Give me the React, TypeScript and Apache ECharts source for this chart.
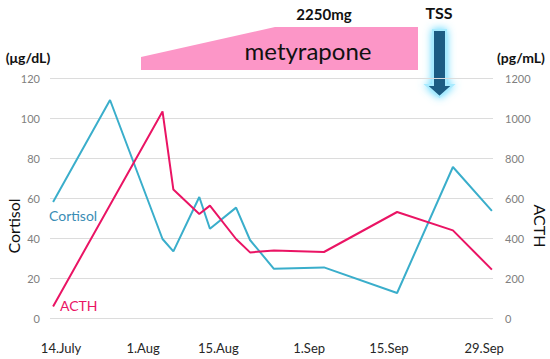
import React, { useEffect, useRef } from "react";
import * as echarts from "echarts";

// x positions on an abstract 0–200 time scale (as laid out in the figure)
const xTickPos = [5, 42, 76, 117, 153, 196];
const xTickLabels = ["14.July", "1.Aug", "15.Aug", "1.Sep", "15.Sep", "29.Sep"];

const cortisolX = [1.4, 27.1, 50.8, 55.7, 67.4, 72.2, 84, 90.3, 101.1, 123.7, 156.7, 181.9, 199.5];
const cortisolY = [58, 109, 39.5, 33.3, 60.5, 44.6, 55.2, 39, 24.6, 25.3, 12.5, 75.5, 53.6];

const acthX = [1.4, 50.8, 55.7, 67.4, 72.2, 84, 90.3, 101.1, 123.7, 156.7, 181.9, 199.5];
const acthY = [58, 1033, 642, 520, 562, 395, 328, 338, 330, 530, 438, 242];

const FONT = "Lato, 'Noto Sans', sans-serif";
const CORTISOL_COLOR = "#3AAECB";
const ACTH_COLOR = "#EA1464";

export default function App() {
  const ref = useRef<HTMLDivElement>(null);

  useEffect(() => {
    if (!ref.current) return;
    const chart = echarts.init(ref.current, undefined, { renderer: "svg" });

    const cortisolData = cortisolX.map((x, i) => [x, cortisolY[i]]);
    const acthData = acthX.map((x, i) => [x, acthY[i]]);

    chart.setOption({
      animation: false,
      textStyle: { fontFamily: FONT },
      grid: { left: 50, right: 57, top: 78, bottom: 41 },
      xAxis: {
        type: "value",
        min: 0,
        max: 200,
        interval: 1,
        axisLine: { show: false },
        axisTick: { show: false },
        splitLine: { show: false },
        axisLabel: {
          margin: 23,
          fontSize: 13,
          color: "#262626",
          fontFamily: FONT,
          formatter: (v: number) => {
            const i = xTickPos.findIndex((p) => Math.abs(p - v) < 0.01);
            return i >= 0 ? xTickLabels[i] : "";
          },
        },
      },
      yAxis: [
        {
          type: "value",
          min: 0,
          max: 120,
          interval: 20,
          axisLine: { show: false },
          axisTick: { show: false },
          splitLine: { show: true, lineStyle: { color: "#dcdcdc", width: 1 } },
          axisLabel: { margin: 10, fontSize: 11, color: "#808080", fontFamily: FONT },
        },
        {
          type: "value",
          min: 0,
          max: 1200,
          interval: 200,
          axisLine: { show: false },
          axisTick: { show: false },
          splitLine: { show: false },
          axisLabel: {
            margin: 12,
            fontSize: 11,
            color: "#808080",
            fontFamily: FONT,
            formatter: (v: number) => String(v),
          },
        },
      ],
      series: [
        {
          name: "Cortisol",
          type: "line",
          yAxisIndex: 0,
          data: cortisolData,
          showSymbol: false,
          lineStyle: { color: CORTISOL_COLOR, width: 2 },
          itemStyle: { color: CORTISOL_COLOR },
          z: 3,
        },
        {
          name: "ACTH",
          type: "line",
          yAxisIndex: 1,
          data: acthData,
          showSymbol: false,
          lineStyle: { color: ACTH_COLOR, width: 2 },
          itemStyle: { color: ACTH_COLOR },
          z: 4,
        },
      ],
      graphic: [
        {
          type: "polygon",
          shape: { points: [[141, 70], [141, 57], [275, 27], [418, 27], [418, 70]] },
          style: { fill: "#FC96C7" },
        },
        {
          type: "text",
          x: 308,
          y: 50,
          style: { text: "metyrapone", fontSize: 24, fontFamily: FONT, fill: "#111", align: "center", verticalAlign: "middle" },
        },
        {
          type: "text",
          x: 324,
          y: 14,
          style: { text: "2250mg", fontSize: 15, fontWeight: "bold", fontFamily: FONT, fill: "#111", align: "center", verticalAlign: "middle" },
        },
        {
          type: "text",
          x: 439,
          y: 12,
          style: { text: "TSS", fontSize: 16, fontWeight: "bold", fontFamily: FONT, fill: "#111", align: "center", verticalAlign: "middle" },
        },
        {
          type: "polygon",
          shape: {
            points: [[433, 30], [446, 30], [446, 85], [453, 85], [439.5, 97], [426, 85], [433, 85]],
          },
          style: {
            fill: "#1D5B83",
            stroke: "#A8EBFF",
            lineWidth: 2,
            shadowBlur: 8,
            shadowColor: "#52D6FF",
          },
        },
        {
          type: "text",
          x: 28,
          y: 57,
          style: { text: "(μg/dL)", fontSize: 14, fontWeight: "bold", fontFamily: FONT, fill: "#111", align: "center", verticalAlign: "middle" },
        },
        {
          type: "text",
          x: 521,
          y: 57,
          style: { text: "(pg/mL)", fontSize: 14, fontWeight: "bold", fontFamily: FONT, fill: "#111", align: "center", verticalAlign: "middle" },
        },
        {
          type: "text",
          x: 13,
          y: 226,
          rotation: Math.PI / 2,
          style: { text: "Cortisol", fontSize: 16, fontFamily: FONT, fill: "#111", align: "center", verticalAlign: "middle" },
        },
        {
          type: "text",
          x: 540,
          y: 226,
          rotation: -Math.PI / 2,
          style: { text: "ACTH", fontSize: 16, fontFamily: FONT, fill: "#111", align: "center", verticalAlign: "middle" },
        },
        {
          type: "text",
          x: 49,
          y: 215,
          style: { text: "Cortisol", fontSize: 14, fontFamily: FONT, fill: "#3A8DB5", align: "left", verticalAlign: "middle" },
        },
        {
          type: "text",
          x: 60,
          y: 305,
          style: { text: "ACTH", fontSize: 14, fontFamily: FONT, fill: ACTH_COLOR, align: "left", verticalAlign: "middle" },
        },
      ],
    });

    return () => chart.dispose();
  }, []);

  return (
    <div
      ref={ref}
      style={{ position: "fixed", left: 0, top: 0, width: 550, height: 359, background: "#fff" }}
    />
  );
}
